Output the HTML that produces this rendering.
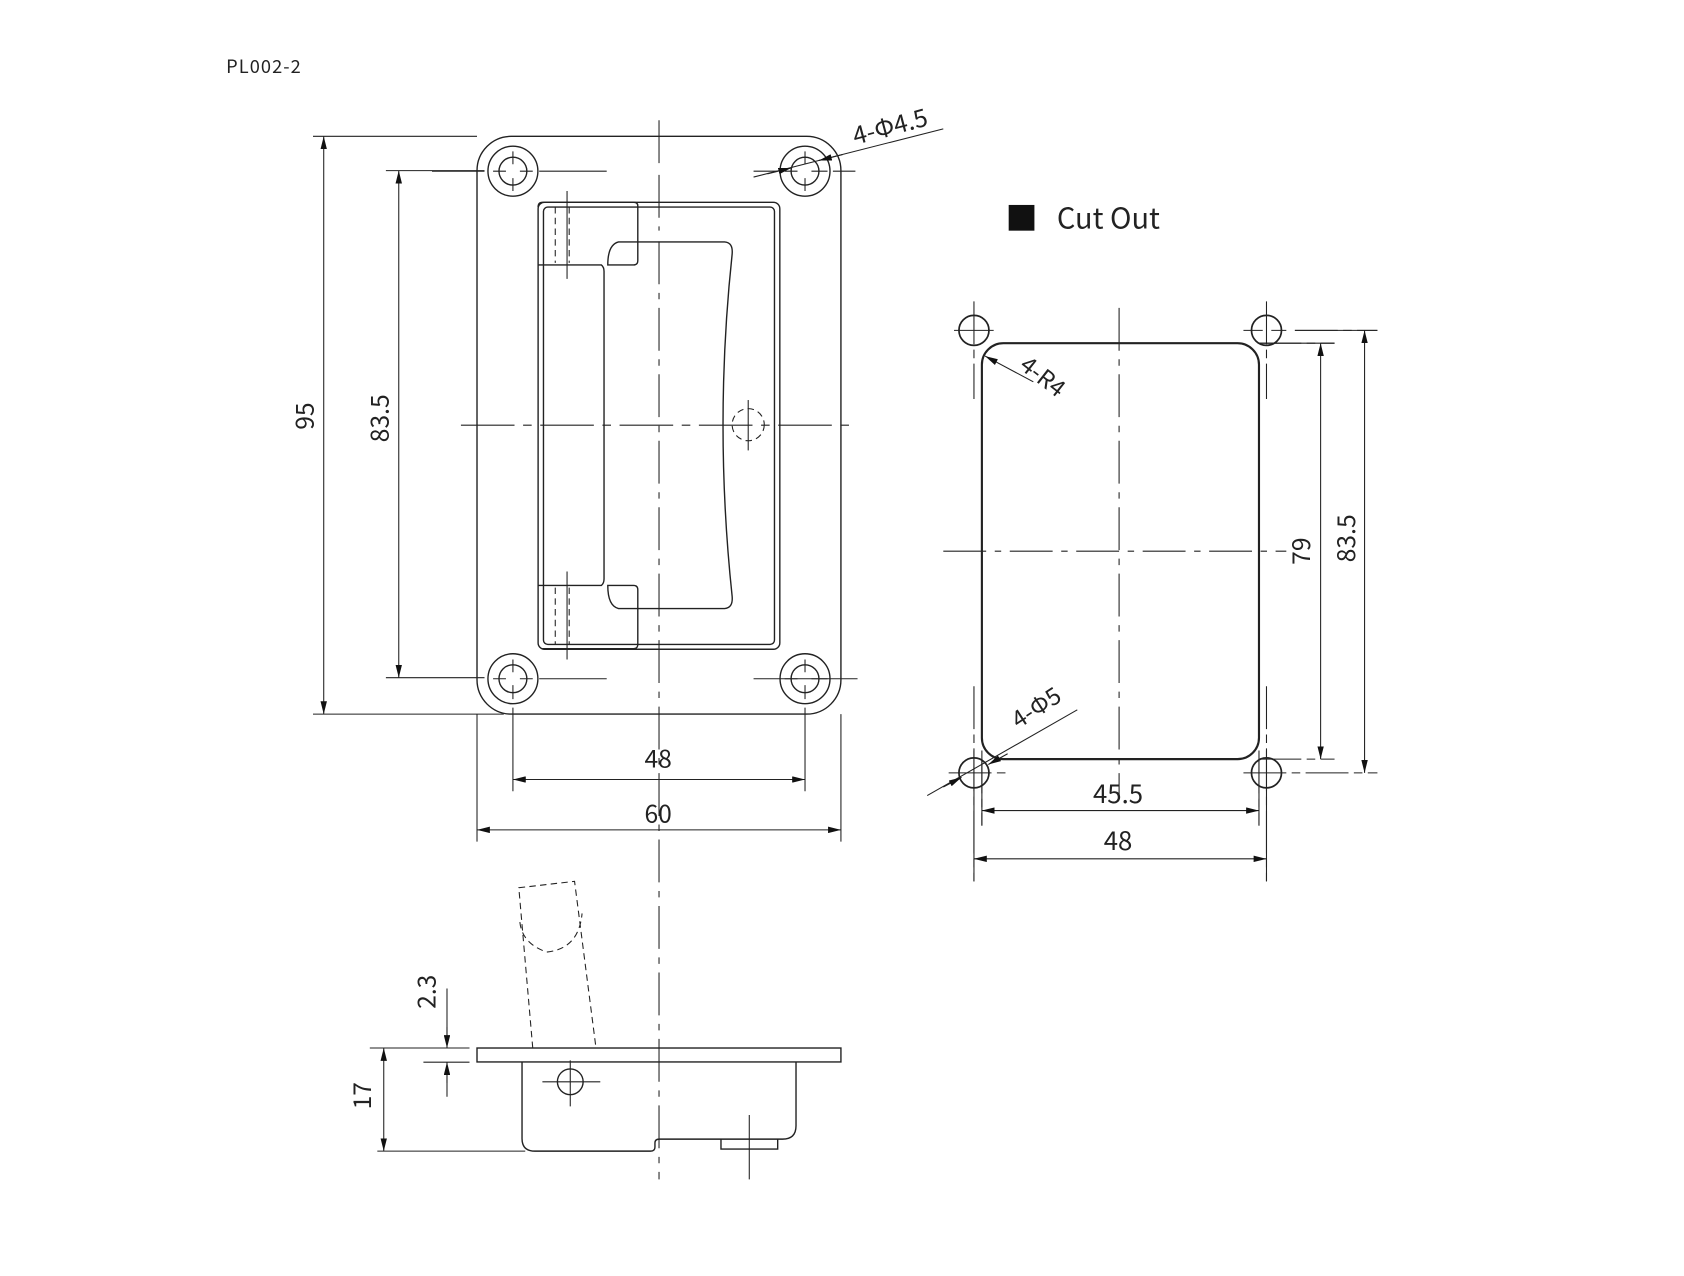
<!DOCTYPE html>
<html><head><meta charset="utf-8"><style>
html,body{margin:0;padding:0;background:#fff;}
svg{display:block}
text{font-family:"Noto Sans CJK SC","Liberation Sans",sans-serif;fill:#222}
</style></head><body>
<svg width="1684" height="1276" viewBox="0 0 1571 1190" xmlns="http://www.w3.org/2000/svg">
<defs>
<marker id="a" viewBox="0 0 12 6" refX="12" refY="3" markerWidth="12" markerHeight="6" orient="auto-start-reverse" markerUnits="userSpaceOnUse"><path d="M0,0L12,3L0,6z" fill="#111"/></marker>
</defs>
<g stroke="#222" stroke-width="1.3" fill="none">
<text x="211" y="68" font-size="17" stroke="none" letter-spacing="1">PL002-2</text>
<!-- plate -->
<rect x="445" y="127" width="339.5" height="539" rx="32"/>
<circle cx="478.5" cy="159.5" r="23.3"/><circle cx="478.5" cy="159.5" r="13"/>
<circle cx="751" cy="159.5" r="23.3"/><circle cx="751" cy="159.5" r="13"/>
<circle cx="478.5" cy="633" r="23.3"/><circle cx="478.5" cy="633" r="13"/>
<circle cx="751" cy="633" r="23.3"/><circle cx="751" cy="633" r="13"/>
<g stroke-width="1">
<path d="M460 159.5H472M485 159.5H497M478.5 141V153M478.5 166V178M732 159.5H744M757 159.5H772M751 141V153M751 166V178M460 633H472M485 633H497M478.5 615V627M478.5 639V652M732 633H744M757 633H772M751 615V627M751 639V652"/>
<path d="M703 159.5H725M777 159.5H798M403 159.5H452M503 159.5H566M529 178V260M529 533V615M503 633H566M703 633H800"/>
<path d="M614.8 112V155M614.8 163V215M614.8 225V1100" stroke-dasharray="40 8 6 8"/>
<path d="M430 396.5H800" stroke-dasharray="50 8 8 8"/>
</g>
<!-- handle frame -->
<rect x="502" y="188.5" width="225.5" height="417" rx="6"/>
<rect x="507" y="193" width="215.5" height="408" rx="4"/>
<path d="M502 193Q502 188.5 506 188.5H591Q595 188.5 595 192V243Q595 247 591 247H567Q567 228 577 225.5H676Q684 226 683 237Q666 396 683 556Q684 567 676 567.5H577Q567 565 567 546H591Q595 546 595 550V601Q595 605 591 605H506"/>
<path d="M502 247H561Q563.5 249 563.5 253V540Q563.5 544 561 546H502"/>
<path d="M518 193V245M531 193V245M518 548V601M531 548V601" stroke-dasharray="6 4" stroke-width="1"/>
<circle cx="698" cy="396" r="15" stroke-dasharray="6 4" stroke-width="1"/>
<path d="M698 373V420" stroke-width="1"/>
<!-- left dims -->
<g stroke-width="1">
<path d="M292 127H445M292 666H470M360 159H452M360 632H452"/>
<path d="M302 127V666" marker-start="url(#a)" marker-end="url(#a)"/>
<path d="M372 159V632" marker-start="url(#a)" marker-end="url(#a)"/>
<path d="M478.5 660V738M751 660V738M445 666V785M784.5 666V785"/>
<path d="M478.5 727H751" marker-start="url(#a)" marker-end="url(#a)"/>
<path d="M445 774H784.5" marker-start="url(#a)" marker-end="url(#a)"/>
<path d="M703 165L880 120" />
<path d="M716 162L738 156.5" marker-end="url(#a)"/>
<path d="M786 144L764 149.5" marker-end="url(#a)"/>
</g>
<text x="294" y="388" font-size="23" stroke="none" transform="rotate(-90 294 388)" text-anchor="middle" dominant-baseline="middle" dy="-8">95</text>
<text x="364" y="390" font-size="23" stroke="none" transform="rotate(-90 364 390)" text-anchor="middle" dominant-baseline="middle" dy="-8">83.5</text>
<text x="614" y="716" font-size="23" stroke="none" text-anchor="middle">48</text>
<text x="614" y="767" font-size="23" stroke="none" text-anchor="middle">60</text>
<text x="798" y="135" font-size="23" stroke="none" transform="rotate(-15 798 135)">4-Φ4.5</text>
<!-- cut out -->
<rect x="941" y="191" width="24" height="24" fill="#111" stroke="none"/>
<text x="986" y="213" font-size="27" stroke="none">Cut Out</text>
<rect x="916" y="320" width="258.5" height="388" rx="20" stroke-width="2"/>
<circle cx="908.6" cy="308" r="14" stroke-width="1.6"/><circle cx="1181.5" cy="308" r="14" stroke-width="1.6"/>
<circle cx="908.6" cy="720.8" r="14" stroke-width="1.6"/><circle cx="1181.5" cy="720.8" r="14" stroke-width="1.6"/>
<g stroke-width="1">
<path d="M908.6 281V372M1181.5 281V372M890 308H927M1160 308H1178M1186 308H1200M1208 308H1285M908.6 640V822M1181.5 640V822M885 720.8H940M1160 720.8H1285M1174 320H1245M1174 708H1245M916 700V770M1174.5 700V770" stroke-dasharray="40 5 8 5"/>
<path d="M908.6 700V822M1181.5 700V822M916 708V770M1174.5 708V770M1208 308H1285M1174 320H1245"/>
<path d="M1044 287V745M880 514H1200" stroke-dasharray="40 8 6 8"/>
<path d="M1232 320V708" marker-start="url(#a)" marker-end="url(#a)"/>
<path d="M1273 308V720.8" marker-start="url(#a)" marker-end="url(#a)"/>
<path d="M916 756H1174.5" marker-start="url(#a)" marker-end="url(#a)"/>
<path d="M908.6 801H1181.5" marker-start="url(#a)" marker-end="url(#a)"/>
<path d="M964 356L919 332" marker-end="url(#a)"/>
<path d="M865 742L1005 662"/>
<path d="M880 734L897 725" marker-end="url(#a)"/>
<path d="M940 703L922 713" marker-end="url(#a)"/>
</g>
<text x="1224" y="514" font-size="23" stroke="none" transform="rotate(-90 1224 514)" text-anchor="middle" dominant-baseline="middle" dy="-8">79</text>
<text x="1266" y="502" font-size="23" stroke="none" transform="rotate(-90 1266 502)" text-anchor="middle" dominant-baseline="middle" dy="-8">83.5</text>
<text x="1043" y="749" font-size="24" stroke="none" text-anchor="middle">45.5</text>
<text x="1043" y="793" font-size="24" stroke="none" text-anchor="middle">48</text>
<text x="950" y="343" font-size="22" stroke="none" transform="rotate(38 950 343)">4-R4</text>
<text x="950" y="680" font-size="22" stroke="none" transform="rotate(-33 950 680)">4-Φ5</text>
<!-- side view -->
<rect x="445" y="977.5" width="339.5" height="13"/>
<path d="M487 990.7V1062Q487 1073.7 499 1073.7H607Q611 1073.7 611 1070V1066Q611 1062.5 615 1062.5H730Q742.6 1062.5 742.6 1050V990.7"/>
<path d="M672.6 1062.5V1071.8H725.5V1062.5"/>
<circle cx="532" cy="1009" r="12"/>
<g stroke-width="1">
<path d="M506 1009H560M532 989V1032M699 1040V1100"/>
<path d="M497 977.5L484 828L536 822L556 977.5M485 860Q487 880 510 888Q540 885 543 852" stroke-dasharray="6 4"/>
<path d="M345 977.5H438M395 990.7H438M352 1073.7H490"/>
<path d="M417 922V966M417 1002V1023" />
<path d="M417 958V977.5" marker-end="url(#a)"/>
<path d="M417 1010V990.7" marker-end="url(#a)"/>
<path d="M358 977.5V1073.7" marker-start="url(#a)" marker-end="url(#a)"/>
</g>
<text x="408" y="925" font-size="23" stroke="none" transform="rotate(-90 408 925)" text-anchor="middle" dominant-baseline="middle" dy="-8">2.3</text>
<text x="348" y="1022" font-size="23" stroke="none" transform="rotate(-90 348 1022)" text-anchor="middle" dominant-baseline="middle" dy="-8">17</text>
</g>
</svg>
</body></html>
